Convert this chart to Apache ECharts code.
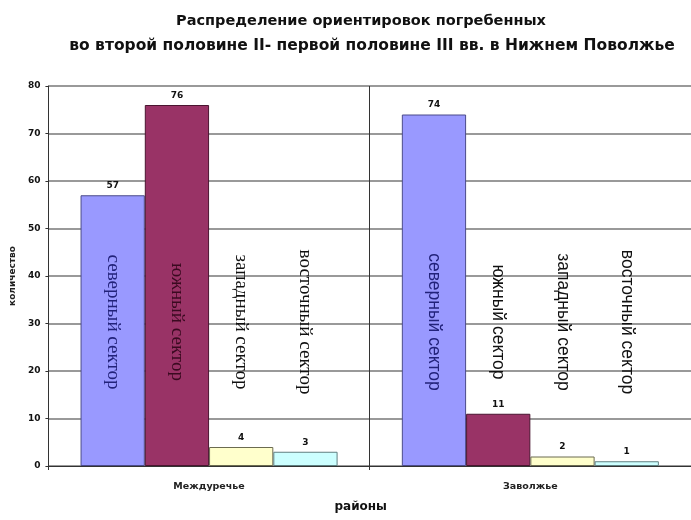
<!DOCTYPE html>
<html>
<head>
<meta charset="utf-8">
<script src="https://cdn.jsdelivr.net/npm/echarts@6/dist/echarts.min.js"></script>
<style>
html,body{margin:0;padding:0;background:#fff;}
#chart{width:691px;height:520px;}
</style>
</head>
<body>
<div id="chart"></div>
<script>
// ---- data ----
const titleLines = ['Распределение ориентировок погребенных', 'во второй половине II- первой половине III вв. в Нижнем Поволжье'];
const categories = ['Междуречье', 'Заволжье'];
const sectors = ['северный сектор', 'южный сектор', 'западный сектор', 'восточный сектор'];
const northern = [57, 74];
const southern = [76, 11];
const western = [4, 2];
const eastern = [3, 1];
const yTicks = [0, 10, 20, 30, 40, 50, 60, 70, 80];
const yName = 'количество';
const xName = 'районы';

// ---- styles ----
const seriesValues = [northern, southern, western, eastern];
const fills = ['#9999FF', '#993366', '#FFFFCC', '#CCFFFF'];
const borders = ['#4b4b8a', '#4a1530', '#6b6b50', '#5f7f80'];
const nameColors = [['#22227a', '#3a0a20', '#111', '#111'], ['#22227a', '#111', '#111', '#111']];
const nameFonts = ['"Liberation Serif", serif', '"Liberation Sans", Arial, sans-serif'];
const nameSizes = [19, 17.5];
const wide = '"DejaVu Sans", sans-serif';

const chart = echarts.init(document.getElementById('chart'));

const valueSeries = seriesValues.map((vals, i) => ({
  type: 'bar',
  name: sectors[i],
  xAxisIndex: 0, yAxisIndex: 0,
  data: vals,
  barGap: '0%',
  barCategoryGap: '20%',
  itemStyle: { color: fills[i], borderColor: borders[i], borderWidth: 1 },
  label: {
    show: true, position: 'top', distance: 5,
    fontFamily: wide, fontWeight: 'bold', fontSize: 9, color: '#111'
  },
  silent: true,
  z: 2
}));

const nameSeries = seriesValues.map((vals, i) => ({
  type: 'bar',
  name: sectors[i] + ' ',
  xAxisIndex: 1, yAxisIndex: 1,
  data: vals.map((v, c) => ({
    value: v,
    label: { color: nameColors[c][i], fontFamily: nameFonts[c], fontSize: nameSizes[c] }
  })),
  barGap: '0%',
  barCategoryGap: '20%',
  itemStyle: { color: 'rgba(0,0,0,0)' },
  label: {
    show: true,
    formatter: sectors[i],
    position: 'insideBottom',
    distance: 0,
    rotate: -90,
    align: 'center',
    verticalAlign: 'middle',
    offset: [-144, 0]
  },
  silent: true,
  z: 3
}));

const titleStyle = { fontFamily: wide, fontWeight: 'bold', fontSize: 15, color: '#111' };

chart.setOption({
  animation: false,
  backgroundColor: '#fff',
  title: [{
    text: titleLines[0],
    left: 356, top: 9,
    textAlign: 'center',
    textStyle: Object.assign({}, titleStyle, { fontSize: 14.5 })
  }, {
    text: titleLines[1],
    left: 367, top: 33,
    textAlign: 'center',
    textStyle: Object.assign({}, titleStyle, { fontSize: 15.5 })
  }],
  grid: { left: 48, right: -3, top: 86, bottom: 54 },
  xAxis: [{
    type: 'category',
    data: categories,
    name: xName,
    nameLocation: 'middle',
    nameGap: 35,
    nameTextStyle: { fontFamily: wide, fontWeight: 'bold', fontSize: 12, color: '#111', padding: [0, 18, 0, 0] },
    axisLine: { lineStyle: { color: '#333', width: 1 } },
    axisTick: { show: true, length: 4, lineStyle: { color: '#333' } },
    axisLabel: { fontFamily: wide, fontWeight: 'bold', fontSize: 9.5, color: '#222', margin: 16 },
    splitLine: { show: true, lineStyle: { color: '#333', width: 1 } }
  }, {
    type: 'category',
    data: categories,
    show: false,
    gridIndex: 0
  }],
  yAxis: [{
    type: 'value',
    min: yTicks[0],
    max: yTicks[yTicks.length - 1],
    interval: yTicks[1] - yTicks[0],
    name: yName,
    nameLocation: 'middle',
    nameGap: 31,
    nameTextStyle: { fontFamily: wide, fontWeight: 'bold', fontSize: 9, color: '#222' },
    axisLine: { show: true, lineStyle: { color: '#333', width: 1 } },
    axisTick: { show: true, length: 3, lineStyle: { color: '#333' } },
    axisLabel: { fontFamily: wide, fontWeight: 'bold', fontSize: 9, color: '#111', margin: 8 },
    splitLine: { show: true, lineStyle: { color: '#777', width: 1.5 } }
  }, {
    type: 'value',
    min: yTicks[0],
    max: yTicks[yTicks.length - 1],
    show: false,
    splitLine: { show: false },
    gridIndex: 0
  }],
  series: valueSeries.concat(nameSeries)
});
</script>
</body>
</html>
